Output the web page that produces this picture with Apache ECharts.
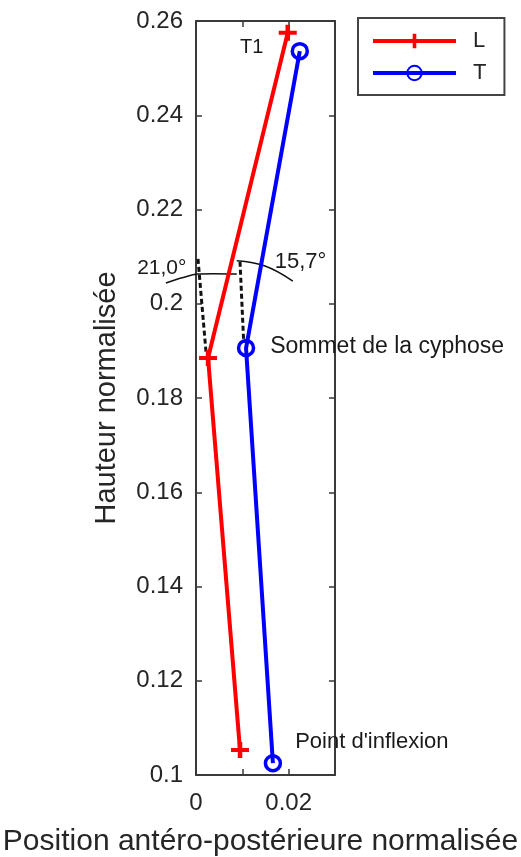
<!DOCTYPE html>
<html>
<head>
<meta charset="utf-8">
<script src="https://cdn.jsdelivr.net/npm/echarts@6/dist/echarts.min.js"></script>
<style>
html,body{margin:0;padding:0;background:#fff;}
#chart{width:521px;height:857px;}
</style>
</head>
<body>
<div id="chart"></div>
<script>
// ---- data ----
var seriesNames = ['L', 'T'];
var lX = [0.0198, 0.0026, 0.0095];
var lY = [0.2575, 0.1885, 0.1053];
var tX = [0.0224, 0.0108, 0.0166];
var tY = [0.2536, 0.1906, 0.1025];

var xTickValues = [0, 0.02];
var xTickLabels = ['0', '0.02'];
var yTickLabels = ['0.1', '0.12', '0.14', '0.16', '0.18', '0.2', '0.22', '0.24', '0.26'];

// angle construction lines (data coordinates)
var dashLeftX = [0.00043, 0.0022];
var dashLeftY = [0.2095, 0.1893];
var dashRightX = [0.0095, 0.0103];
var dashRightY = [0.2089, 0.1917];
var arcLeftX = [-0.0065, -0.0030, 0.00043, 0.0088];
var arcLeftY = [0.2044, 0.2055, 0.2063, 0.2063];
var arcRightX = [0.0088, 0.0149, 0.0209];
var arcRightY = [0.2091, 0.2080, 0.2048];

// annotations
var annTexts = ['T1', 'Sommet de la cyphose', "Point d'inflexion", '21,0°', '15,7°'];
var annX = [0.0095, 0.0160, 0.0214, -0.0127, 0.0170];
var annY = [0.2543, 0.1909, 0.1070, 0.2076, 0.2089];
var annSizes = [20, 23, 22, 21, 22];

function zip(xs, ys) { return xs.map(function (x, i) { return [x, ys[i]]; }); }

var FONT = 'Liberation Sans, Arial, sans-serif';
var AXIS_COLOR = '#3a3a3a';
var TEXT_COLOR = '#262626';

var plusPath = 'path://M-2,-8 H2 V-2 H8 V2 H2 V8 H-2 V2 H-8 V-2 H-2 Z';

var chart = echarts.init(document.getElementById('chart'), null, {renderer: 'canvas'});

var axisCommonX = {
  type: 'value', min: 0, max: 0.03, interval: 0.01,
  axisLine: {show: true, onZero: false, lineStyle: {color: AXIS_COLOR, width: 2}},
  axisTick: {show: true, inside: true, length: 6, lineStyle: {color: AXIS_COLOR, width: 1.5}},
  splitLine: {show: false}
};
var axisCommonY = {
  type: 'value', min: 0.1, max: 0.26, interval: 0.02,
  axisLine: {show: true, onZero: false, lineStyle: {color: AXIS_COLOR, width: 2}},
  axisTick: {show: true, inside: true, length: 6, lineStyle: {color: AXIS_COLOR, width: 1.5}},
  splitLine: {show: false}
};

var option = {
  backgroundColor: '#ffffff',
  animation: false,
  textStyle: {fontFamily: FONT},
  grid: {left: 196, right: 186, top: 21, bottom: 82, containLabel: false, outerBoundsMode: 'none'},
  legend: {
    data: seriesNames,
    orient: 'vertical',
    left: 358, top: 18,
    borderColor: '#444', borderWidth: 2, borderRadius: 0,
    padding: [11, 18, 10, 13],
    itemWidth: 83, itemHeight: 18, itemGap: 8,
    lineStyle: {width: 4},
    textStyle: {fontSize: 22, color: TEXT_COLOR, fontFamily: FONT, lineHeight: 24, padding: [0, 0, 0, 12]}
  },
  xAxis: [
    Object.assign({}, axisCommonX, {
      position: 'bottom',
      name: 'Position antéro-postérieure normalisée',
      nameLocation: 'middle', nameGap: 52,
      nameTextStyle: {fontSize: 30, color: TEXT_COLOR, fontFamily: FONT, padding: [0, 10, 0, 0]},
      axisLabel: {
        show: true, margin: 16, fontSize: 24, color: TEXT_COLOR, fontFamily: FONT,
        formatter: function (v) {
          for (var i = 0; i < xTickValues.length; i++) {
            if (Math.abs(v - xTickValues[i]) < 1e-9) return xTickLabels[i];
          }
          return '';
        }
      }
    }),
    Object.assign({}, axisCommonX, {position: 'top', axisLabel: {show: false}})
  ],
  yAxis: [
    Object.assign({}, axisCommonY, {
      position: 'left',
      name: 'Hauteur normalisée',
      nameLocation: 'middle', nameGap: 75,
      nameTextStyle: {fontSize: 29, color: TEXT_COLOR, fontFamily: FONT},
      axisLabel: {
        show: true, margin: 13, fontSize: 24, color: TEXT_COLOR, fontFamily: FONT,
        formatter: function (v) {
          var idx = Math.round((v - 0.1) / 0.02);
          return yTickLabels[idx] !== undefined ? yTickLabels[idx] : '';
        }
      }
    }),
    Object.assign({}, axisCommonY, {position: 'right', axisLabel: {show: false}})
  ],
  series: [
    {
      name: 'dashLeft', type: 'line', data: zip(dashLeftX, dashLeftY), clip: false,
      showSymbol: false, silent: true, z: 1,
      lineStyle: {color: '#111', width: 3, type: [5, 3]}
    },
    {
      name: 'dashRight', type: 'line', data: zip(dashRightX, dashRightY), clip: false,
      showSymbol: false, silent: true, z: 1,
      lineStyle: {color: '#111', width: 3, type: [5, 3]}
    },
    {
      name: 'L', type: 'line', data: zip(lX, lY), clip: false, z: 3,
      symbol: plusPath, symbolSize: [18, 16],
      lineStyle: {color: '#ff0000', width: 4},
      itemStyle: {color: '#ff0000'}
    },
    {
      name: 'T', type: 'line', data: zip(tX, tY), clip: false, z: 3,
      symbol: 'circle', symbolSize: 15,
      lineStyle: {color: '#0000ff', width: 4},
      itemStyle: {color: 'rgba(0,0,255,0)', borderColor: '#0000ff', borderWidth: 3.5}
    },
    {
      name: 'annotations', type: 'scatter', clip: false, silent: true, z: 5,
      symbolSize: 0,
      itemStyle: {opacity: 1},
      data: annTexts.map(function (t, i) {
        return {
          name: t, value: [annX[i], annY[i]],
          label: {fontSize: annSizes[i]}
        };
      }),
      label: {
        show: true, position: 'right', distance: 0, opacity: 1,
        color: '#1a1a1a', fontFamily: FONT,
        formatter: function (p) { return p.name; }
      }
    }
  ]
};

chart.setOption(option);

// arcs drawn through the grid's coordinate conversion (they extend outside the plot box)
function toPx(xs, ys) {
  return xs.map(function (x, i) { return chart.convertToPixel({gridIndex: 0}, [x, ys[i]]); });
}
chart.setOption({
  graphic: [
    {type: 'polyline', z: 2, silent: true, shape: {points: toPx(arcLeftX, arcLeftY), smooth: 0.3},
      style: {stroke: '#111', lineWidth: 1.5, fill: null}},
    {type: 'polyline', z: 2, silent: true, shape: {points: toPx(arcRightX, arcRightY), smooth: 0.4},
      style: {stroke: '#111', lineWidth: 1.5, fill: null}}
  ]
});
</script>
</body>
</html>
